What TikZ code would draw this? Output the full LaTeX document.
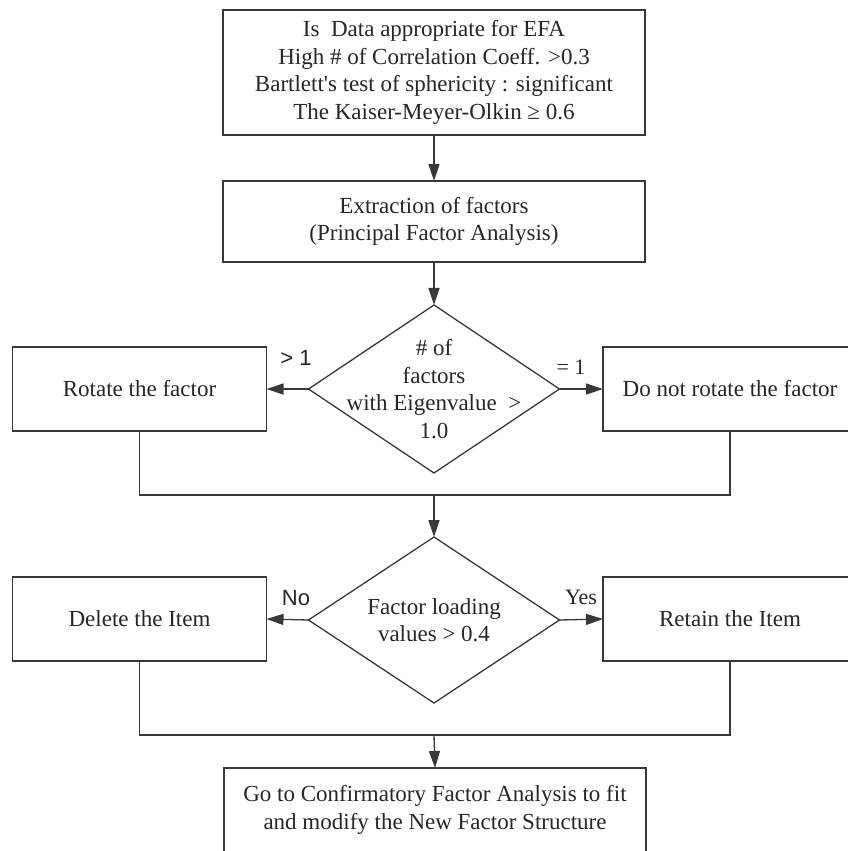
\documentclass[tikz,border=0pt]{standalone}
\usepackage{fontspec}
\setmainfont{Liberation Serif}
\newfontfamily\labelsans{Liberation Sans}
\usetikzlibrary{shapes.geometric,arrows.meta}

\tikzset{
  ink/.style={draw=black!78, line width=1.3pt},
  boxtext/.style={font=\fontsize{23}{27.5}\selectfont, text=black!85, align=center},
  stepbox/.style={ink, rectangle, inner sep=0pt, outer sep=0pt, boxtext},
  decision/.style={ink, diamond, inner sep=0pt, outer sep=0pt,
                   minimum width=251pt, minimum height=168pt},
  flow/.style={ink, -{Triangle[length=17pt,width=11pt]}},
  branchsans/.style={font=\labelsans\fontsize{22}{24}\selectfont, text=black!85},
  branchserif/.style={font=\fontsize{22}{24}\selectfont, text=black!85}
}

\begin{document}
\begin{tikzpicture}[x=1pt, y=-1pt]
  \useasboundingbox (0,0) rectangle (848,851);
  \clip (0,0) rectangle (848,851);

  % process steps
  \node[stepbox, minimum width=422pt, minimum height=125pt] (check) at (434,72.5)
    {Is~~Data appropriate for EFA\\
     High \# of Correlation Coeff. >0.3\\
     Bartlett\textquotesingle s test of sphericity : significant\\
     The Kaiser-Meyer-Olkin ≥ 0.6};
  \node[stepbox, minimum width=422pt, minimum height=81pt] (extract) at (434,221.5)
    {Extraction of factors\\(Principal Factor Analysis)};

  % first decision
  \node[decision] (nfac) at (434,389) {};
  \node[boxtext] (nfactext) at (nfac.center)
    {\# of\\factors\\with Eigenvalue~~>\\1.0};
  \node[stepbox, minimum width=254pt, minimum height=84pt] (rot) at (139.5,389)
    {Rotate the factor};
  \node[stepbox, minimum width=254pt, minimum height=84pt] (norot) at (730,389)
    {Do not rotate the factor};

  % second decision
  \node[decision, minimum height=166pt] (load) at (434,620) {};
  \node[boxtext] (loadtext) at (load.center)
    {Factor loading\\values > 0.4};
  \node[stepbox, minimum width=254pt, minimum height=84pt] (del) at (139.5,619)
    {Delete the Item};
  \node[stepbox, minimum width=254pt, minimum height=84pt] (keep) at (730,619)
    {Retain the Item};

  % final step
  \node[stepbox, minimum width=422pt, minimum height=84pt] (cfa) at (435,810)
    {Go to Confirmatory Factor Analysis to fit\\
     and modify the New Factor Structure};

  % junction points
  \coordinate (join1) at (434,495);
  \coordinate (join2) at (434,735);

  % connectors
  \draw[flow] (check) -- (extract);
  \draw[flow] (extract) -- (nfac);
  \draw[flow] (nfac.west) -- (rot.east);
  \draw[flow] (nfac.east) -- (norot.west);
  \draw[ink] (rot.south) |- (join1) -| (norot.south);
  \draw[flow] (join1) -- (load.north);
  \draw[flow] (load.west) -- (del.east);
  \draw[flow] (load.east) -- (keep.west);
  \draw[ink] (del.south) |- (join2) -| (keep.south);
  \draw[flow] (join2) -- (cfa.north);

  % branch labels
  \node[branchsans] (gt1) at (296,358) {> 1};
  \node[branchserif] (eq1) at (571,367) {= 1};
  \node[branchsans] (no) at (296,598) {No};
  \node[branchserif] (yes) at (581,597) {Yes};
\end{tikzpicture}
\end{document}
